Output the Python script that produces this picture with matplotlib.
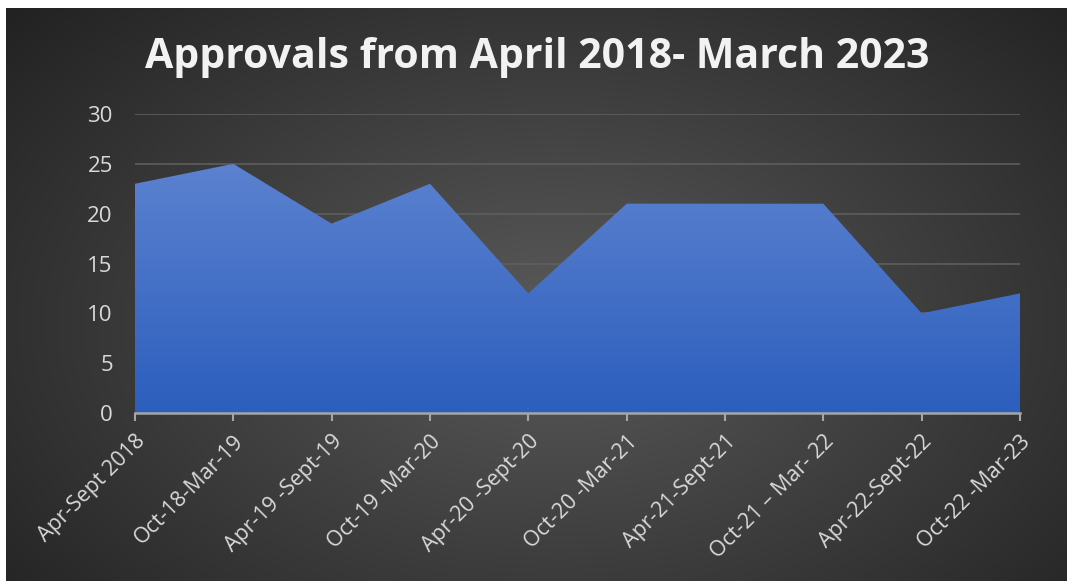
import matplotlib
matplotlib.use("Agg")
import matplotlib.pyplot as plt
import numpy as np
from matplotlib.patches import Polygon

# chart data
periods = ["Apr-Sept 2018", "Oct-18-Mar-19", "Apr-19 -Sept-19", "Oct-19 -Mar-20",
           "Apr-20 -Sept-20", "Oct-20 -Mar-21", "Apr-21-Sept-21", "Oct-21 \u2013 Mar- 22",
           "Apr-22-Sept-22", "Oct-22 -Mar-23"]
approvals = [23, 25, 19, 23, 12, 21, 21, 21, 10, 12]
y_ticks = [0, 5, 10, 15, 20, 25, 30]
title = "Approvals from April 2018- March 2023"

W, H = 1067, 581
fig = plt.figure(figsize=(W / 100, H / 100), dpi=100)
fig.patch.set_facecolor("white")

# dark radial background
bg = fig.add_axes([6 / W, 0, 1 - 6 / W, 1 - 8 / H])
yy, xx = np.mgrid[0:1:300j, 0:1:600j]
r = np.sqrt(((xx - 0.52) / 0.72) ** 2 + ((yy - 0.45) / 0.85) ** 2)
r = np.clip(r, 0, 1)
c0 = np.array([0x5a, 0x5a, 0x5a]) / 255
c1 = np.array([0x20, 0x20, 0x20]) / 255
img = c0[None, None, :] * (1 - r[..., None]) + c1[None, None, :] * r[..., None]
bg.imshow(img, extent=[0, 1, 0, 1], aspect="auto", origin="lower")
bg.set_axis_off()

ax = fig.add_axes([135 / W, (H - 413) / H, (1020 - 135) / W, (413 - 114) / H])
ax.patch.set_alpha(0)
x = np.arange(len(periods))
ax.set_xlim(0, len(periods) - 1)
ax.set_ylim(0, 30)

# gradient filled area
grad = np.linspace(0, 1, 256)[:, None]
top = np.array([0x5c, 0x82, 0xd0]) / 255
bot = np.array([0x2c, 0x5e, 0xbd]) / 255
gimg = bot[None, None, :] * (1 - grad[..., None]) + top[None, None, :] * grad[..., None]
gimg = np.repeat(gimg, 2, axis=1)
im = ax.imshow(gimg, extent=[0, len(periods) - 1, 0, 25], aspect="auto",
               origin="lower", zorder=3)
verts = [(0, 0)] + list(zip(x, approvals)) + [(len(periods) - 1, 0)]
poly = Polygon(verts, closed=True, facecolor="none", edgecolor="none")
ax.add_patch(poly)
im.set_clip_path(poly)

ax.set_yticks(y_ticks)
ax.yaxis.grid(True, color="#5e5e5e", linewidth=1.2, zorder=1)
ax.set_axisbelow(True)
for s in ["top", "right", "left"]:
    ax.spines[s].set_visible(False)
ax.spines["bottom"].set_color("#a6a6a6")
ax.spines["bottom"].set_linewidth(1.8)
ax.spines["bottom"].set_zorder(4)

ax.set_xticks(x)
ax.set_xticklabels(periods, rotation=45, ha="right", rotation_mode="anchor",
                   fontsize=15.5, color="#d9d9d9", family="Open Sans")
ax.tick_params(axis="x", length=6, width=1.5, color="#a6a6a6", pad=7)
ax.tick_params(axis="y", length=0, pad=16, labelsize=16, labelcolor="#d9d9d9")
for lab in ax.get_yticklabels():
    lab.set_family("Open Sans")

fig.text(537 / W, 1 - 58 / H, title, ha="center", va="center", color="#f2f2f2",
         fontsize=29.5, fontweight="bold", family="Open Sans")

fig.savefig("out.png", dpi=100, facecolor=fig.get_facecolor())
